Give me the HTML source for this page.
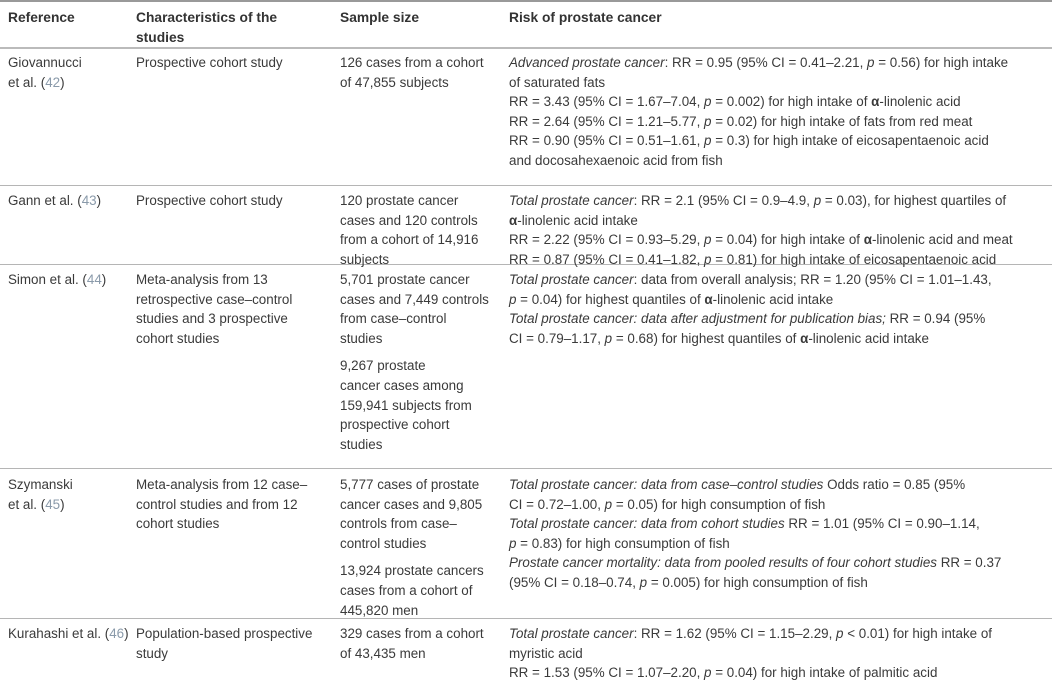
<!DOCTYPE html>
<html><head><meta charset="utf-8"><style>
body{margin:0;width:1052px;height:688px;background:#fff;position:relative;overflow:hidden;font-family:"Liberation Sans",Arial,sans-serif;color:#3a3a3a;font-size:13.4px;}
.c{position:absolute;line-height:19.6px;white-space:nowrap;}
.h{font-weight:bold;color:#333;font-size:13.8px;}
.ln{position:absolute;left:0;width:1052px;height:1px;background:#b5b5b5;}
.r{color:#8a9aaa;}
i{font-style:italic}
b{font-weight:bold}
.gap{height:8px}
</style></head><body>
<div class="ln" style="top:0;height:2px;background:#999"></div>
<div class="ln" style="top:47px;height:2px;background:#bbb"></div>
<div class="ln" style="top:185px"></div>
<div class="ln" style="top:264px"></div>
<div class="ln" style="top:468px"></div>
<div class="ln" style="top:618px"></div>

<div class="c h" style="left:8px;top:8px">Reference</div>
<div class="c h" style="left:136px;top:8px">Characteristics of the<br>studies</div>
<div class="c h" style="left:340px;top:8px">Sample size</div>
<div class="c h" style="left:509px;top:8px">Risk of prostate cancer</div>

<div>
<div class="c" style="left:8px;top:53px">Giovannucci<br>et al. (<span class="r">42</span>)</div>
<div class="c" style="left:136px;top:53px">Prospective cohort study</div>
<div class="c" style="left:340px;top:53px">126 cases from a cohort<br>of 47,855 subjects</div>
<div class="c" style="left:509px;top:53px"><i>Advanced prostate cancer</i>: RR = 0.95 (95% CI = 0.41–2.21, <i>p</i> = 0.56) for high intake<br>of saturated fats<br>RR = 3.43 (95% CI = 1.67–7.04, <i>p</i> = 0.002) for high intake of <b>α</b>-linolenic acid<br>RR = 2.64 (95% CI = 1.21–5.77, <i>p</i> = 0.02) for high intake of fats from red meat<br>RR = 0.90 (95% CI = 0.51–1.61, <i>p</i> = 0.3) for high intake of eicosapentaenoic acid<br>and docosahexaenoic acid from fish</div>
</div>

<div>
<div class="c" style="left:8px;top:191px">Gann et al. (<span class="r">43</span>)</div>
<div class="c" style="left:136px;top:191px">Prospective cohort study</div>
<div class="c" style="left:340px;top:191px">120 prostate cancer<br>cases and 120 controls<br>from a cohort of 14,916<br>subjects</div>
<div class="c" style="left:509px;top:191px"><i>Total prostate cancer</i>: RR = 2.1 (95% CI = 0.9–4.9, <i>p</i> = 0.03), for highest quartiles of<br><b>α</b>-linolenic acid intake<br>RR = 2.22 (95% CI = 0.93–5.29, <i>p</i> = 0.04) for high intake of <b>α</b>-linolenic acid and meat<br>RR = 0.87 (95% CI = 0.41–1.82, <i>p</i> = 0.81) for high intake of eicosapentaenoic acid</div>
</div>

<div>
<div class="c" style="left:8px;top:270px">Simon et al. (<span class="r">44</span>)</div>
<div class="c" style="left:136px;top:270px">Meta-analysis from 13<br>retrospective case–control<br>studies and 3 prospective<br>cohort studies</div>
<div class="c" style="left:340px;top:270px">5,701 prostate cancer<br>cases and 7,449 controls<br>from case–control<br>studies<div class="gap"></div>9,267 prostate<br>cancer cases among<br>159,941 subjects from<br>prospective cohort<br>studies</div>
<div class="c" style="left:509px;top:270px"><i>Total prostate cancer</i>: data from overall analysis; RR = 1.20 (95% CI = 1.01–1.43,<br><i>p</i> = 0.04) for highest quantiles of <b>α</b>-linolenic acid intake<br><i>Total prostate cancer: data after adjustment for publication bias;</i> RR = 0.94 (95%<br>CI = 0.79–1.17, <i>p</i> = 0.68) for highest quantiles of <b>α</b>-linolenic acid intake</div>
</div>

<div>
<div class="c" style="left:8px;top:475px">Szymanski<br>et al. (<span class="r">45</span>)</div>
<div class="c" style="left:136px;top:475px">Meta-analysis from 12 case–<br>control studies and from 12<br>cohort studies</div>
<div class="c" style="left:340px;top:475px">5,777 cases of prostate<br>cancer cases and 9,805<br>controls from case–<br>control studies<div class="gap"></div>13,924 prostate cancers<br>cases from a cohort of<br>445,820 men</div>
<div class="c" style="left:509px;top:475px"><i>Total prostate cancer: data from case–control studies</i> Odds ratio = 0.85 (95%<br>CI = 0.72–1.00, <i>p</i> = 0.05) for high consumption of fish<br><i>Total prostate cancer: data from cohort studies</i> RR = 1.01 (95% CI = 0.90–1.14,<br><i>p</i> = 0.83) for high consumption of fish<br><i>Prostate cancer mortality: data from pooled results of four cohort studies</i> RR = 0.37<br>(95% CI = 0.18–0.74, <i>p</i> = 0.005) for high consumption of fish</div>
</div>

<div>
<div class="c" style="left:8px;top:624px">Kurahashi et al. (<span class="r">46</span>)</div>
<div class="c" style="left:136px;top:624px">Population-based prospective<br>study</div>
<div class="c" style="left:340px;top:624px">329 cases from a cohort<br>of 43,435 men</div>
<div class="c" style="left:509px;top:624px"><i>Total prostate cancer</i>: RR = 1.62 (95% CI = 1.15–2.29, <i>p</i> &lt; 0.01) for high intake of<br>myristic acid<br>RR = 1.53 (95% CI = 1.07–2.20, <i>p</i> = 0.04) for high intake of palmitic acid</div>
</div>
</body></html>
